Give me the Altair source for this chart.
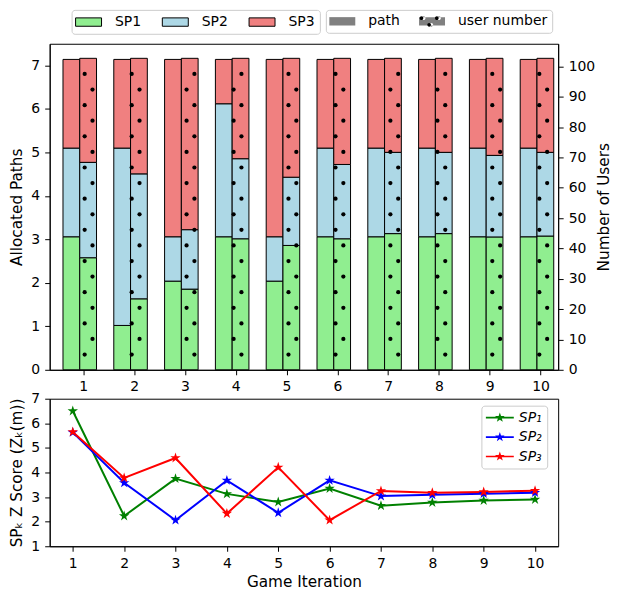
import math
import altair as alt
import pandas as pd

# ---------------- data ----------------
iterations = list(range(1, 11))
providers = ["SP1", "SP2", "SP3"]

# allocated paths (left axis)
path_sp1 = [3.06, 1.02, 2.04, 3.06, 2.04, 3.06, 3.06, 3.06, 3.06, 3.06]
path_sp2 = [2.04, 4.08, 1.02, 3.06, 1.02, 2.04, 2.04, 2.04, 2.04, 2.04]
path_sp3 = [2.04, 2.04, 4.08, 1.02, 4.08, 2.04, 2.04, 2.04, 2.04, 2.04]

# number of users (right axis)
users_sp1 = [36.95, 23.4, 26.6, 43.2, 41.0, 43.2, 44.9, 44.9, 43.8, 44.1]
users_sp2 = [31.45, 41.2, 19.6, 26.4, 22.5, 24.5, 26.8, 26.8, 26.9, 27.6]
users_sp3 = [34.3, 38.1, 56.5, 33.1, 39.2, 35.0, 31.0, 31.0, 32.0, 31.0]

# Z scores (bottom panel)
series_labels = ["SP\u2081", "SP\u2082", "SP\u2083"]
z_sp1 = [6.50, 2.23, 3.75, 3.13, 2.80, 3.35, 2.65, 2.78, 2.86, 2.90]
z_sp2 = [5.63, 3.58, 2.06, 3.68, 2.36, 3.68, 3.04, 3.09, 3.14, 3.18]
z_sp3 = [5.65, 3.78, 4.59, 2.33, 4.21, 2.06, 3.25, 3.18, 3.21, 3.26]

legend_kinds = ["path", "user number"]

# ---------------- layout constants ----------------
PATH_L, MID, USER_R = -0.40, -0.07, 0.26      # bar edges relative to the tick
TOP_X_DOMAIN = [0.338, 10.347]
BOT_X_DOMAIN = [0.55, 10.45]
PATH_DOMAIN = [0, 7.5]
USER_DOMAIN = [0, 107.5]
FILL_COLORS = ["#90ee90", "#add8e6", "#f08080"]
LINE_COLORS = ["#008000", "#0000ff", "#ff0000"]
W, H_TOP, H_BOT, GAP = 510, 327, 148, 29
LEG_Y = -34
SP_X = 22
KIND_X = 277
KIND_STEP = 87.8    # offset of the second entry inside the kind legend

# ---------------- tables ----------------
paths = [path_sp1, path_sp2, path_sp3]
users = [users_sp1, users_sp2, users_sp3]
rows = []
for i, it in enumerate(iterations):
    p_acc, u_acc = 0.0, 0.0
    for k, sp in enumerate(providers):
        p, u = paths[k][i], users[k][i]
        rows.append(dict(it=it, sp=sp, order=k, p0=p_acc, p1=p_acc + p,
                         u0=u_acc, u1=u_acc + u))
        p_acc += p
        u_acc += u
bars = pd.DataFrame(rows)

# dotted hatch texture on the user bars (pattern spacing in data units)
DOT_DX, DOT_DY = 0.3086, 5.14
DOT_X0, DOT_Y0 = 1.181, 71.84
dot_rows = []
for i, it in enumerate(iterations):
    total = users_sp1[i] + users_sp2[i] + users_sp3[i]
    left, right = it + MID + 0.01, it + USER_R - 0.01
    for j in range(-20, 20):
        y = DOT_Y0 + j * DOT_DY
        if not (0.4 < y < total - 0.4):
            continue
        base = DOT_X0 - (DOT_DX / 2 if j % 2 else 0.0)
        for m in range(-10, 50):
            x = base + m * DOT_DX
            if left <= x <= right:
                dot_rows.append(dict(dx=x, dy=y))
dots_df = pd.DataFrame(dot_rows)

zs = [z_sp1, z_sp2, z_sp3]
zdf = pd.DataFrame([dict(it=it, series=series_labels[k], order=k, z=zs[k][i])
                    for k in range(3) for i, it in enumerate(iterations)])
kinds_df = pd.DataFrame(dict(kind=legend_kinds))
series_df = pd.DataFrame(dict(series=series_labels))


# ---------------- symbol paths ----------------
def star(R, r):
    pts = []
    for n in range(10):
        ang = math.radians(-90 + 36 * n)
        rad = R if n % 2 == 0 else r
        pts.append((rad * math.cos(ang), rad * math.sin(ang)))
    return "M" + "L".join(f"{x:.3f},{y:.3f}" for x, y in pts) + "Z"


def circle(cx, cy, r, sweep):
    return (f"M{cx - r:.3f},{cy:.3f}a{r},{r} 0 1,{sweep} {2 * r},0"
            f"a{r},{r} 0 1,{sweep} {-2 * r},0Z")


RECT = "M-1.86,-0.6H1.86V0.6H-1.86Z"
DOTS_XY = [(-1.2, -0.45), (1.0, -0.45), (-0.1, 0.5)]
RECT_HOLES = RECT + "".join(circle(x, y, 0.26, 0) for x, y in DOTS_XY)
DOTS_ONLY = "".join(circle(x, y, 0.26, 1) for x, y in DOTS_XY)
STAR = star(1.0, 0.382)
LEG_LINE_STAR = "M-2,-0.12H2V0.12H-2Z" + star(0.72, 0.29)

FONT = "DejaVu Sans"

# ---------------- top panel ----------------
x_scale_top = alt.Scale(domain=TOP_X_DOMAIN, nice=False, zero=False)
x_axis_top = alt.Axis(values=iterations, title=None, format="d")
fill_scale = alt.Scale(domain=providers, range=FILL_COLORS)

legend_sp = alt.Legend(
    title=None, orient="none", legendX=SP_X, legendY=LEG_Y,
    direction="horizontal",
    symbolType=RECT, symbolSize=196, symbolStrokeColor="black",
    symbolStrokeWidth=1, symbolOffset=5, labelOffset=19, columnPadding=18,
    labelFontSize=14, labelFont=FONT, padding=4.5, strokeColor="#cccccc",
    cornerRadius=3, fillColor="white")

path_bars = alt.Chart(bars).transform_calculate(
    xa=f"datum.it + ({PATH_L})", xb=f"datum.it + ({MID})"
).mark_bar(stroke="black", strokeWidth=1).encode(
    x=alt.X("xa:Q", scale=x_scale_top, axis=x_axis_top),
    x2="xb:Q",
    y=alt.Y("p0:Q", scale=alt.Scale(domain=PATH_DOMAIN, nice=False),
            axis=alt.Axis(orient="left", values=list(range(8)),
                          title="Allocated Paths", titlePadding=6)),
    y2="p1:Q",
    fill=alt.Fill("sp:N", scale=fill_scale, legend=legend_sp),
)

user_bars = alt.Chart(bars).transform_calculate(
    xa=f"datum.it + ({MID})", xb=f"datum.it + ({USER_R})"
).mark_bar(stroke="black", strokeWidth=1).encode(
    x=alt.X("xa:Q", scale=x_scale_top, axis=x_axis_top),
    x2="xb:Q",
    y=alt.Y("u0:Q", scale=alt.Scale(domain=USER_DOMAIN, nice=False),
            axis=alt.Axis(orient="right", values=list(range(0, 101, 10)),
                          title="Number of Users", titleAngle=270,
                          titleBaseline="top", titlePadding=2)),
    y2="u1:Q",
    fill=alt.Fill("sp:N", scale=fill_scale, legend=legend_sp),
)

dots = alt.Chart(dots_df).mark_circle(size=18, color="black", opacity=1).encode(
    x=alt.X("dx:Q", scale=x_scale_top, axis=x_axis_top),
    y=alt.Y("dy:Q", scale=alt.Scale(domain=USER_DOMAIN, nice=False), axis=None),
)

kind_legend_common = dict(
    title=None, orient="none", legendY=LEG_Y, direction="horizontal",
    symbolSize=196, symbolStrokeWidth=0, symbolOffset=5, labelOffset=19,
    columnPadding=18, labelFontSize=14, labelFont=FONT, padding=4.5,
    cornerRadius=3)

kind_rects = alt.Chart(kinds_df).mark_point(
    filled=True, color="#808080", opacity=1
).encode(
    shape=alt.Shape("kind:N",
                    scale=alt.Scale(domain=legend_kinds, range=[RECT, RECT_HOLES]),
                    legend=alt.Legend(legendX=KIND_X, strokeColor="#cccccc",
                                      fillColor="white",
                                      symbolFillColor="#808080",
                                      **kind_legend_common)),
).transform_filter("false")

# black dots drawn over the "user number" key
kind_dots = alt.Chart(kinds_df).mark_point(
    filled=True, color="black", opacity=1
).encode(
    shape=alt.Shape("kind:N",
                    scale=alt.Scale(domain=legend_kinds[1:], range=[DOTS_ONLY]),
                    legend=alt.Legend(legendX=KIND_X + KIND_STEP,
                                      labelExpr="''", symbolFillColor="black",
                                      **kind_legend_common)),
).transform_filter("false")

# legend of the bottom panel (placed from the top panel's frame)
series_key = alt.Chart(series_df).mark_point(filled=True, opacity=1).encode(
    color=alt.Color("series:N",
                    scale=alt.Scale(domain=series_labels, range=LINE_COLORS),
                    legend=alt.Legend(
                        title=None, orient="none", legendX=W - 77,
                        legendY=H_TOP + GAP + 7,
                        symbolType=LEG_LINE_STAR, symbolSize=196,
                        symbolStrokeWidth=0, symbolOffset=6.5, labelOffset=12,
                        rowPadding=5.5, labelFontSize=14, labelFont=FONT,
                        labelFontStyle="italic", padding=5,
                        strokeColor="#cccccc", cornerRadius=3,
                        fillColor="white")),
).transform_filter("false")

top = alt.layer(path_bars, user_bars, dots, kind_rects, kind_dots,
                series_key).resolve_scale(
    y="independent", shape="independent"
).properties(width=W, height=H_TOP)

# ---------------- bottom panel ----------------
x_bot = dict(scale=alt.Scale(domain=BOT_X_DOMAIN, nice=False, zero=False),
             axis=alt.Axis(values=iterations, title="Game Iteration", format="d",
                           titlePadding=4))
y_bot = dict(scale=alt.Scale(domain=[1, 7], nice=False, zero=False),
             axis=alt.Axis(values=list(range(1, 8)),
                           title="SP\u2096 Z Score (Z\u2096(m))", titlePadding=6))
line_scale = alt.Scale(domain=series_labels, range=LINE_COLORS)

lines = alt.Chart(zdf).mark_line(strokeWidth=2).encode(
    x=alt.X("it:Q", **x_bot),
    y=alt.Y("z:Q", **y_bot),
    stroke=alt.Stroke("series:N", scale=line_scale, legend=None),
    order="it:Q",
)

stars = alt.Chart(zdf).mark_point(shape=STAR, filled=True, size=120,
                                  opacity=1).encode(
    x=alt.X("it:Q", **x_bot),
    y=alt.Y("z:Q", **y_bot),
    fill=alt.Fill("series:N", scale=line_scale, legend=None),
)

bottom = alt.layer(lines, stars).properties(width=W, height=H_BOT)

chart = alt.vconcat(top, bottom, spacing=GAP, bounds="flush").resolve_scale(
    x="independent", y="independent", fill="independent",
    shape="independent", stroke="independent", color="independent"
).properties(
    padding={"left": 0.8, "top": 0, "right": 0, "bottom": 0}
).configure(font=FONT).configure_axis(
    labelFontSize=14, titleFontSize=15.3, titleFontWeight="normal",
    labelColor="black", titleColor="black", domainColor="black",
    tickColor="black", tickSize=5, labelPadding=5, grid=False,
    labelFont=FONT, titleFont=FONT, labelOverlap=False,
).configure_view(stroke="black", strokeWidth=1)

chart.save("out.html", embed_options={"renderer": "svg", "actions": False})
